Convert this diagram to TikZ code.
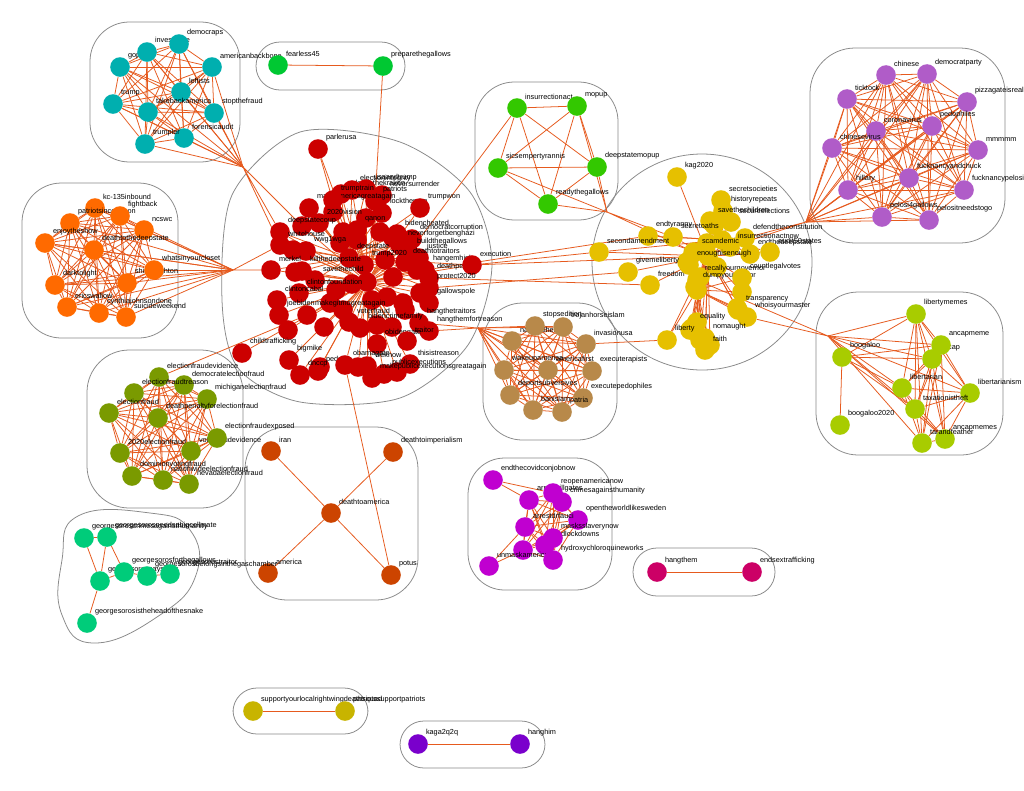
\documentclass[tikz,border=0pt]{standalone}
\usepackage{fontspec}
\setmainfont{Liberation Sans}
\pgfdeclarelayer{hulls}
\pgfdeclarelayer{edges}
\pgfsetlayers{hulls,edges,main}

\definecolor{edgeor}{HTML}{E65A1E}
\definecolor{hullgray}{HTML}{8A8A8A}
\definecolor{cteal}{HTML}{00AFAF}
\definecolor{cfear}{HTML}{00C832}
\definecolor{corange}{HTML}{FF6A00}
\definecolor{cred}{HTML}{CC0000}
\definecolor{cinsur}{HTML}{33C800}
\definecolor{cpurple}{HTML}{B05CC8}
\definecolor{cyellow}{HTML}{E6C000}
\definecolor{cbrown}{HTML}{B8894A}
\definecolor{clime}{HTML}{A8CC00}
\definecolor{colive}{HTML}{7A9A00}
\definecolor{cdeath}{HTML}{CC4400}
\definecolor{csoros}{HTML}{00CC7A}
\definecolor{cmagenta}{HTML}{C000D0}
\definecolor{chang}{HTML}{CC0066}
\definecolor{csupport}{HTML}{C8B400}
\definecolor{ckaga}{HTML}{7A00CC}

% nodes with labels: colour, list of name/x/y/label
\newcommand{\tagnodes}[2]{%
  \foreach \nm/\px/\py/\lab in {#2}
    \node[dot, fill=#1, label={[lbl]above right:\lab}] (\nm) at (\px,\py) {};}
% nodes without labels
\newcommand{\dotnodes}[2]{%
  \foreach \nm/\px/\py in {#2}
    \node[dot, fill=#1] (\nm) at (\px,\py) {};}
% every pair of a group
\newcommand{\allpairs}[2]{%
  \foreach \ia in {#2}{\foreach \ib in {#2}{%
    \ifnum\ia<\ib\relax\draw[edge] (#1\ia) -- (#1\ib);\fi}}}

\begin{document}
\begin{tikzpicture}[x=0.025cm, y=-0.025cm,
    dot/.style={circle, minimum size=0.49cm, inner sep=0pt, draw=none},
    lbl/.style={font=\fontsize{5.2}{6}\selectfont, inner sep=0pt, text=black, label distance=0.6pt},
    edge/.style={draw=edgeor, line width=0.55pt},
    hull/.style={draw=hullgray, line width=0.55pt}]
    \useasboundingbox (0,0) rectangle (1024,790);

    % teal group
    \tagnodes{cteal}{t1/120/67/gop, t2/147/52/investigate, t3/179/44/democraps,
      t4/212/67/americanbackbone, t5/181/92/leftists, t6/113/104/trump,
      t7/148/112/takebackamerica, t8/214/113/stopthefraud,
      t9/184/138/forensicaudit, t10/145/144/trumpler}
    % fearless45
    \tagnodes{cfear}{f1/278/65/fearless45, f2/383/66/preparethegallows}
    % orange group
    \tagnodes{corange}{o1/95/208/kc-135inbound, o3/70/223/patriotsincommon,
      o2/120/216/fightback, o4/144/230/ncswc, o5/45/243/enjoytheshow,
      o6/94/250/deathtothedeepstate, o7/55/285/darktolight,
      o9/127/283/shinealighton, o8/154/270/whatsinyourcloset,
      o10/67/307/ericswallow, o11/99/313/cynthiajohnsondone,
      o12/126/317/suicideweekend}
    % insurrection group
    \tagnodes{cinsur}{g1/517/108/insurrectionact, g2/577/106/mopup,
      g3/498/168/sicsempertyrannis, g4/597/167/deepstatemopup,
      g5/548/204/readythegallows}
    % purple group
    \tagnodes{cpurple}{p1/886/75/chinese, p2/927/74/democratparty,
      p3/847/99/ticktock, p4/967/102/pizzagateisreal, p5/876/131/coronavirus,
      p6/932/126/pedophiles, p7/832/148/chinesevirus, p8/978/150/mmmmm,
      p9/909/178/fucknancyandchuck, p10/848/190/hillary,
      p11/964/190/fucknancypelosi, p12/882/217/pelosi4gallows,
      p13/929/220/pelositneedstogo}
    % red group
    \dotnodes{cred}{r51/333/212, r52/302/226, r53/293/250, r54/343/232,
      r55/340/243, r56/357/240, r57/380/232, r58/393/238, r59/366/218,
      r60/295/272, r61/324/327, r62/330/303, r63/343/310, r64/392/327,
      r65/403/303, r66/420/293, r67/377/325, r68/358/367, r69/367/282,
      r70/393/277, r71/417/270, r72/352/284, r73/387/297, r74/405/310,
      r75/288/330, r76/320/367, r77/397/372, r78/372/300, r79/385/260,
      r80/336/290}
    \tagnodes{cred}{r1/318/149/parlerusa, r2/341/194/releasethekraken,
      r3/352/190/electionintegrity, r4/366/189/usaandtrump,
      r5/382/195/neversurrender, r6/375/201/patriots, r7/382/213/lockthemup,
      r8/420/208/trumpwon, r9/309/208/makeamericagreatagain, r10/333/200/trumptrain,
      r11/319/223/2020vision, r12/280/232/deepstatecoup, r13/280/245/whitehouse,
      r14/357/230/qanon, r15/397/234/bidencheated, r16/412/239/democratcorruption,
      r17/400/245/neverforgetbenghazi, r18/306/251/wwg1wga, r19/349/258/deepstate,
      r20/409/253/buildthegallows, r21/419/258/justice, r22/405/262/deathtotraitors,
      r23/364/265/trump2020, r24/425/270/hangemhigh, r25/271/270/merkel,
      r26/302/271/killthedeepstate, r27/429/278/deathpenalty, r28/472/265/execution,
      r29/315/280/savethechild, r30/429/288/protect2020,
      r31/299/293/clintonfoundation, r32/277/300/clintoncabal,
      r33/429/303/gallowspole, r34/279/315/joebiden, r35/307/315/makegitmogreatagain,
      r36/419/323/hangthetraitors, r37/349/322/voterfraud,
      r38/360/328/bidencrimefamily, r39/429/331/hangthemfortreason,
      r40/377/344/obidengate, r41/407/341/traitor, r42/242/353/childtrafficking,
      r43/289/360/bigmike, r44/318/371/pedojoe, r45/345/365/obamagate,
      r46/367/366/weknow, r47/410/364/thisistreason, r48/300/375/dnccp,
      r49/384/374/publicexecutions, r50/372/378/makepublicexecutionsgreatagain}
    % yellow group
    \dotnodes{cyellow}{y26/693/253, y27/687/262, y28/700/277, y29/697/290,
      y30/708/256, y31/717/267, y32/707/243, y33/690/330, y34/700/340,
      y35/710/345, y36/697/322, y37/737/308, y38/722/240, y39/714/225,
      y40/742/292}
    \tagnodes{cyellow}{y1/677/177/kag2020, y2/721/200/secretsocieties,
      y3/723/211/historyrepeats, y4/710/221/savethechildren,
      y5/731/222/secureelections, y6/648/236/endtyranny, y7/673/237/secretoaths,
      y8/745/238/defendtheconstitution, y9/730/247/insurrectionactnow,
      y10/750/254/endthedeepstate, y11/770/252/audit50states,
      y12/599/252/secondamendment, y13/694/252/scamdemic,
      y14/628/272/givemeliberty, y15/650/285/freedom, y16/689/265/enoughisenough,
      y17/697/280/recallyourgovernor, y18/695/287/dumpyourmayor,
      y19/742/278/countlegalvotes, y20/738/310/transparency,
      y21/747/317/whoisyourmaster, y22/692/328/equality, y23/667/340/liberty,
      y24/705/338/nomaught, y25/705/350/faith}
    % brown group
    \tagnodes{cbrown}{b3/512/341/nationalhero, b1/535/326/stopsedition,
      b2/563/327/trojanhorseislam, b4/586/344/invasionusa,
      b5/504/370/wakeupamerica, b6/548/370/americafirst,
      b7/592/371/executerapists, b8/510/395/deportsubversives,
      b9/583/398/executepedophiles, b10/533/410/banislam, b11/562/412/patria}
    % lime group
    \tagnodes{clime}{l1/916/314/libertymemes, l4/932/359/ancap,
      l2/941/345/ancapmeme, l3/842/357/boogaloo, l5/902/388/libertarian,
      l6/970/393/libertarianism, l7/915/409/taxationistheft,
      l8/840/425/boogaloo2020, l9/945/439/ancapmemes, l10/922/443/tarandfeather}
    % election fraud group
    \tagnodes{colive}{v1/159/377/electionfraudevidence,
      v2/184/385/democratelectionfraud, v3/207/399/michiganelectionfraud,
      v4/134/393/electionfraudtreason, v5/109/413/electionfraud,
      v6/158/418/deathpenaltyforelectionfraud, v7/120/453/2020electionfraud,
      v8/191/451/voterfraudevidence, v9/217/438/electionfraudexposed,
      v10/132/476/dominionvotingfraud, v11/163/480/nationwideelectionfraud,
      v12/189/484/nevadaelectionfraud}
    % deathtoamerica group
    \tagnodes{cdeath}{d1/271/451/iran, d2/393/452/deathtoimperialism,
      d3/331/513/deathtoamerica, d4/268/573/america, d5/391/575/potus}
    % soros group
    \tagnodes{csoros}{s1/84/538/georgesoroscrimesagainsthumanity,
      s2/107/537/georgesorosneedsabigcellmate, s3/100/581/georgesorosnaysayer,
      s4/124/572/georgesorosforthegallows,
      s5/147/576/georgesorosbelongsinthegaschamber,
      s6/170/574/georgesorostraitor, s7/87/623/georgesorosistheheadofthesnake}
    % covid group
    \dotnodes{cmagenta}{m10/523/550}
    \tagnodes{cmagenta}{m1/493/480/endthecovidconjobnow, m2/529/500/arrestbillgates,
      m3/553/493/reopenamericanow, m4/562/502/crimesagainsthumanity,
      m5/578/520/opentheworldlikesweden, m6/525/527/arrestdrfauci,
      m7/545/545/endlockdowns, m8/553/538/masksslaverynow,
      m9/489/566/unmaskamerica, m11/553/560/hydroxychloroquineworks}
    % pairs
    \tagnodes{chang}{h1/657/572/hangthem, h2/752/572/endsextrafficking}
    \tagnodes{csupport}{u1/253/711/supportyourlocalrightwingdeathsquad,
      u2/345/711/patriotssupportpatriots}
    \tagnodes{ckaga}{k1/418/744/kaga2q2q, k2/520/744/hanghim}

    % bundle points
    \coordinate (tb) at (243,167);
    \coordinate (ob) at (233,270);
    \coordinate (gb) at (607,212);
    \coordinate (pb) at (806,222);
    \coordinate (bb) at (478,328);
    \coordinate (lb) at (828,336);

    \begin{pgfonlayer}{edges}
        % inside the groups
        \allpairs{t}{1,...,10}
        \allpairs{o}{1,...,12}
        \allpairs{g}{1,...,5}
        \allpairs{p}{1,...,13}
        \allpairs{b}{1,...,11}
        \allpairs{v}{1,...,12}
        \allpairs{l}{1,2,4,5,6,7,9,10}
        \allpairs{m}{2,3,4,5,6,7,8,10,11}
        \foreach \i in {1,2,4,5,7} \draw[edge] (l3) -- (l\i);
        \draw[edge] (l3) -- (l8);
        \draw[edge] (m1) -- (m2) (m1) -- (m3) (m9) -- (m6) (m9) -- (m10);
        \draw[edge] (f1) -- (f2);
        \draw[edge] (h1) -- (h2);
        \draw[edge] (u1) -- (u2);
        \draw[edge] (k1) -- (k2);
        \foreach \i in {1,2,4,5} \draw[edge] (d\i) -- (d3);
        \draw[edge] (s1) -- (s2) (s1) -- (s3) (s2) -- (s3) (s2) -- (s4)
            (s3) -- (s4) (s4) -- (s5) (s5) -- (s6) (s3) -- (s7);
        \foreach \i in {1,...,80}{\ifnum\i=69\else\draw[edge] (r\i) -- (r69);\fi}
        \foreach \i in {1,...,30}{\ifnum\i=19\else\draw[edge] (r\i) -- (r19);\fi}
        \foreach \i in {1,...,40}{\ifnum\i=30\else\draw[edge] (y\i) -- (y30);\fi}
        \foreach \i in {17,...,40}{\ifnum\i=29\else\draw[edge] (y\i) -- (y29);\fi}
        \foreach \i in {2,...,12} \draw[edge] (y\i) -- (y38);
        % bundles between groups
        \foreach \i in {1,...,10} \draw[edge] (t\i) -- (tb);
        \draw[edge] (tb) -- (r52) (tb) -- (r12) (tb) -- (r13);
        \foreach \i in {1,...,12} \draw[edge] (o\i) -- (ob);
        \draw[edge] (ob) -- (r25) (ob) -- (r13);
        \foreach \i in {2,...,5} \draw[edge] (g\i) -- (gb);
        \draw[edge] (gb) -- (y13) (gb) -- (y7);
        \foreach \i in {1,...,13} \draw[edge] (p\i) -- (pb);
        \draw[edge] (pb) -- (y8) (pb) -- (y9);
        \foreach \i in {1,...,11} \draw[edge] (b\i) -- (bb);
        \draw[edge] (bb) -- (r39) (bb) -- (r36);
        \foreach \i in {1,2,4,5,6,7,9,10} \draw[edge] (l\i) -- (lb);
        \draw[edge] (lb) -- (y17) (lb) -- (y21);
        % single lines
        \draw[edge] (f2) -- (r6);
        \draw[edge] (g1) -- (r20);
        \draw[edge] (v1) -- (r35);
        \draw[edge] (d5) -- (r45);
        \draw[edge] (y14) -- (r30);
        \draw[edge] (y12) -- (r28);
        \draw[edge] (y15) -- (r27);
        \draw[edge] (y6) -- (r24);
        \draw[edge] (y30) -- (r28);
        \draw[edge] (y23) -- (b4);
    \end{pgfonlayer}

    \begin{pgfonlayer}{hulls}
        \fill[white] (0,0) rectangle (1024,790);
        \draw[hull, rounded corners=28pt] (90,22) rectangle (240,162);
        \draw[hull, rounded corners=17pt] (256,42) rectangle (405,90);
        \draw[hull, rounded corners=28pt] (22,183) rectangle (178,338);
        \draw[hull, rounded corners=28pt] (475,82) rectangle (618,220);
        \draw[hull, rounded corners=32pt] (810,48) rectangle (1005,243);
        \draw[hull] plot[smooth cycle] coordinates {(222,300) (232,195) (300,132)
            (400,142) (470,192) (492,265) (468,345) (400,398) (300,402) (238,368)};
        \draw[hull] (702,262) ellipse [x radius=110, y radius=108];
        \draw[hull, rounded corners=28pt] (483,303) rectangle (617,440);
        \draw[hull, rounded corners=30pt] (816,292) rectangle (1003,455);
        \draw[hull, rounded corners=30pt] (87,350) rectangle (243,508);
        \draw[hull, rounded corners=30pt] (245,427) rectangle (418,600);
        \draw[hull] plot[smooth cycle, tension=0.8] coordinates {(62,560) (78,516)
            (150,513) (190,530) (196,575) (160,615) (95,643) (62,615)};
        \draw[hull, rounded corners=26pt] (468,458) rectangle (612,590);
        \draw[hull, rounded corners=17pt] (633,548) rectangle (775,596);
        \draw[hull, rounded corners=17pt] (233,688) rectangle (368,734);
        \draw[hull, rounded corners=17pt] (400,721) rectangle (545,768);
    \end{pgfonlayer}
\end{tikzpicture}
\end{document}
